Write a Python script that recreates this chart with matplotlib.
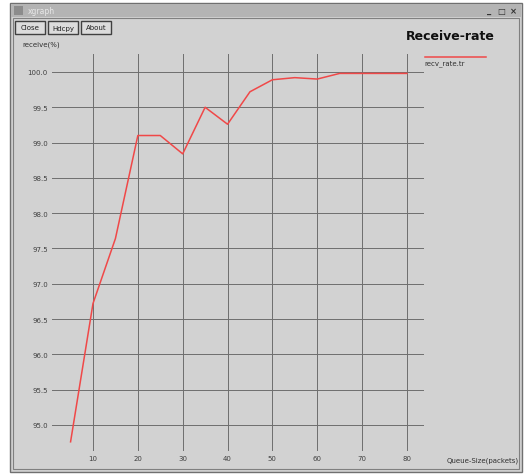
import matplotlib
matplotlib.use("Agg")
import matplotlib.pyplot as plt
from matplotlib.patches import Rectangle

# queue size (packets) vs. receive rate (%)
queue_size = [5, 10, 15, 20, 25, 30, 35, 40, 45, 50, 55, 60, 65, 70, 75, 80]
recv_rate = [94.76, 96.72, 97.64, 99.10, 99.10, 98.84, 99.50, 99.26,
             99.72, 99.89, 99.92, 99.90, 99.98, 99.98, 99.98, 99.98]

x_ticks = [10, 20, 30, 40, 50, 60, 70, 80]
y_ticks = [95.0, 95.5, 96.0, 96.5, 97.0, 97.5, 98.0, 98.5, 99.0, 99.5, 100.0]

W, H = 525, 477
fig = plt.figure(figsize=(W / 100, H / 100), dpi=100, facecolor="white")

# window chrome, drawn in pixel coordinates
bg = fig.add_axes([0, 0, 1, 1])
bg.set_xlim(0, W)
bg.set_ylim(H, 0)
bg.axis("off")

win_gray = "#d2d2d2"
bg.add_patch(Rectangle((10, 4), 512, 469, facecolor=win_gray, edgecolor="#707070", lw=1))
bg.add_patch(Rectangle((13, 19), 506, 451, facecolor="none", edgecolor="#808080", lw=0.8))
# title bar
bg.add_patch(Rectangle((11, 5), 510, 13, facecolor="#b4b4b4", edgecolor="none"))
bg.add_patch(Rectangle((14, 7), 9, 9, facecolor="#8c8c8c", edgecolor="none"))
bg.text(28, 11.5, "xgraph", fontsize=5.5, color="#e8e8e8", va="center", ha="left")
for bx, sym in [(489, "_"), (501, "□"), (513, "×")]:
    bg.text(bx, 11.5, sym, fontsize=6, color="#303030", va="center", ha="center",
            fontweight="bold")

# buttons
for bx, bw, label in [(15, 30, "Close"), (48, 30, "Hdcpy"), (81, 30, "About")]:
    bg.add_patch(Rectangle((bx, 22), bw, 13, facecolor="#dcdcdc", edgecolor="#404040", lw=1))
    bg.text(bx + bw / 2, 28.5, label, fontsize=5, color="#202020", va="center", ha="center")

bg.text(22, 45, "receive(%)", fontsize=5, color="#303030", va="center", ha="left")
bg.text(450, 36, "Receive-rate", fontsize=9, fontweight="bold", color="#101010",
        va="center", ha="center")
bg.text(519, 461, "Queue-Size(packets)", fontsize=5, color="#303030", va="center", ha="right")

# plot area
left, right, top, bottom = 52, 424, 55, 452
ax = fig.add_axes([left / W, 1 - bottom / H, (right - left) / W, (bottom - top) / H])
ax.set_facecolor("none")
for s in ax.spines.values():
    s.set_visible(False)

ax.set_xlim(0.86, 83.8)
ax.set_ylim(94.63, 100.255)
ax.set_xticks(x_ticks)
ax.set_yticks(y_ticks)
ax.set_xticklabels([str(v) for v in x_ticks])
ax.set_yticklabels([f"{v:.1f}" for v in y_ticks])
ax.tick_params(length=0, labelsize=5, labelcolor="#404040", pad=3)
ax.grid(True, color="#6e6e6e", linewidth=0.7)
ax.set_axisbelow(True)

ax.plot(queue_size, recv_rate, color="#f04848", linewidth=1.1, label="recv_rate.tr")

# legend entry at top right
bg.plot([425, 486], [58, 58], color="#f04848", linewidth=1.1)
bg.text(424, 64, "recv_rate.tr", fontsize=5, color="#303030", va="center", ha="left")

fig.savefig("out.png", dpi=100, facecolor="white")
